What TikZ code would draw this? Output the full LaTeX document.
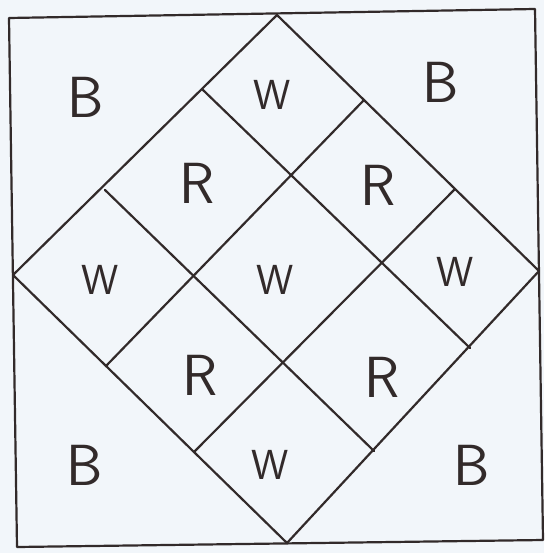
\documentclass[tikz,border=0pt]{standalone}
\usepackage{xcolor}
\usepackage{tikz}
\usetikzlibrary{positioning,calc}
\definecolor{ink}{RGB}{50,42,42}
\definecolor{paper}{RGB}{242,246,250}

\begin{document}
\begin{tikzpicture}[x=1pt, y=-1pt,
  pen/.style={draw=ink, line width=2.2pt, line join=round, line cap=round},
  big/.style={font=\sffamily\fontsize{58}{58}\selectfont, text=ink, inner sep=0pt},
  small/.style={font=\sffamily\fontsize{42}{42}\selectfont, text=ink, inner sep=0pt}]
% paper
\fill[paper] (0,0) rectangle (544,553);
\useasboundingbox (0,0) rectangle (544,553);
% outer square
\coordinate (o1) at (9,18);  \coordinate (o2) at (535,9);
\coordinate (o3) at (543,540); \coordinate (o4) at (17,547);
\draw[pen] (o1) -- (o2) -- (o3) -- (o4) -- cycle;
% diamond
\coordinate (t) at (277,15); \coordinate (r) at (539,271);
\coordinate (b) at (287,543); \coordinate (l) at (13,275);
\draw[pen] (t) -- (r) -- (b) -- (l) -- cycle;
% grid lines
\coordinate (a1) at (203,90);  \coordinate (d1) at (470,348);
\coordinate (a2) at (105,190); \coordinate (d2) at (374,451);
\coordinate (b1) at (364,100); \coordinate (c1) at (106,366);
\coordinate (b2) at (455,189); \coordinate (c2) at (194,452);
\foreach \p/\q in {a1/d1, a2/d2, b1/c1, b2/c2}{ \draw[pen] (\p) -- (\q); }
% corner letters
\foreach \n/\x/\y in {bNW/86/97, bNE/441/82, bSW/85/465, bSE/472/465}{
  \node[big] (\n) at (\x,\y) {B};
}
% cells
\foreach \n/\x/\y in {rNW/197/183, rNE/378/185, rSW/200/375, rSE/382/377}{
  \node[big] (\n) at (\x,\y) {R};
}
\foreach \n/\x/\y in {wN/272/95, wW/100/280, wC/275/280, wE/455/272, wS/270/465}{
  \node[small] (\n) at (\x,\y) {W};
}
\end{tikzpicture}
\end{document}
